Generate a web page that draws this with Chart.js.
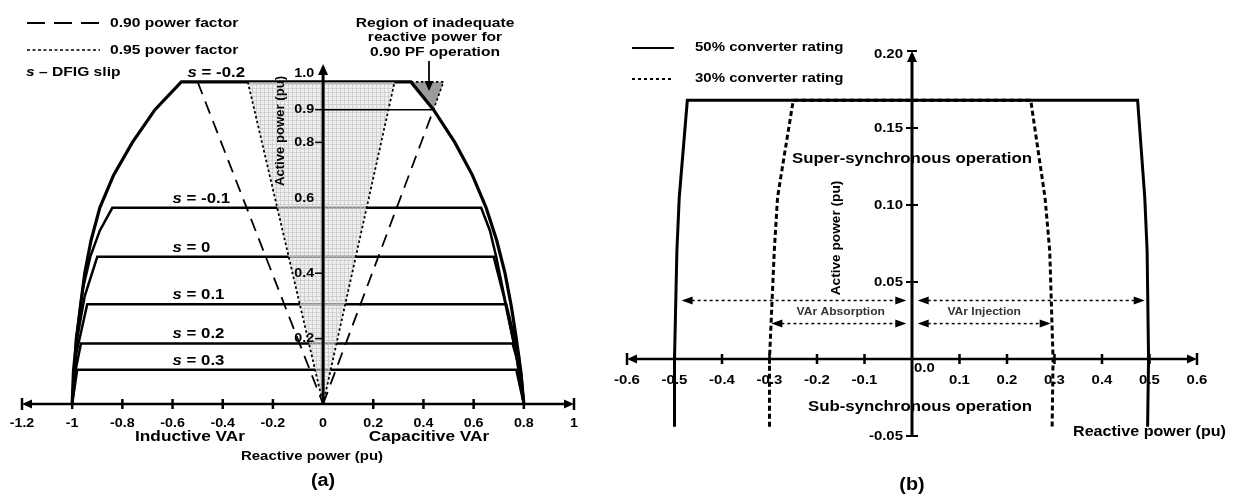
<!DOCTYPE html>
<html lang="en">
<head>
<meta charset="UTF-8">
<title>DFIG reactive power capability</title>
<script src="https://cdn.jsdelivr.net/npm/chart.js"></script>
<style>
  body { margin: 0; background: #fff; }
  #wrap { position: relative; width: 1236px; height: 496px; }
  #chartA { position: absolute; left: 0; top: 0; }
  #chartB { position: absolute; left: 600px; top: 0; }
</style>
</head>
<body>
<div id="wrap">
  <canvas id="chartA" width="600" height="496"></canvas>
  <canvas id="chartB" width="636" height="496"></canvas>
</div>
<script>
// ---- (a) capability curves per slip, points are [reactive Q, active P] in pu
const slipNames = ['-0.2', '-0.1', '0', '0.1', '0.2', '0.3'];
const slipTopP = [0.985, 0.6, 0.45, 0.305, 0.185, 0.105];
const curveSm02 = [[-1, 0], [-0.995, 0.1], [-0.982, 0.2], [-0.967, 0.3], [-0.95, 0.4], [-0.925, 0.5],
  [-0.89, 0.6], [-0.835, 0.7], [-0.76, 0.8], [-0.67, 0.9], [-0.565, 0.985], [0.35, 0.985], [0.44, 0.9],
  [0.525, 0.8], [0.595, 0.7], [0.65, 0.6], [0.692, 0.5], [0.725, 0.4], [0.75, 0.3], [0.77, 0.2], [0.788, 0.1], [0.8, 0]];
const curveSm01 = [[-1, 0], [-0.985, 0.2], [-0.958, 0.35], [-0.928, 0.45], [-0.89, 0.53], [-0.84, 0.6],
  [0.63, 0.6], [0.665, 0.53], [0.69, 0.45], [0.73, 0.3], [0.77, 0.15], [0.8, 0]];
const curveS0 = [[-1, 0], [-0.98, 0.2], [-0.95, 0.33], [-0.9, 0.45], [0.68, 0.45], [0.72, 0.33], [0.77, 0.15], [0.8, 0]];
const curveS01 = [[-1, 0], [-0.985, 0.15], [-0.94, 0.305], [0.73, 0.305], [0.78, 0.15], [0.8, 0]];
const curveS02 = [[-1, 0], [-0.99, 0.09], [-0.965, 0.185], [0.755, 0.185], [0.79, 0.09], [0.8, 0]];
const curveS03 = [[-1, 0], [-0.98, 0.105], [0.77, 0.105], [0.8, 0]];
const pf90Left = [[-0.5, 0.985], [0, 0]];
const pf90Right = [[0, 0], [0.44, 0.9]];
const pf95Left = [[-0.3, 0.985], [0, 0]];
const pf95Right = [[0, 0], [0.285, 0.985]];
const pf95Region = [[0, 0], [-0.3, 0.985], [0.285, 0.985], [0, 0]];
const lackRegion = [[0.35, 0.985], [0.48, 0.985], [0.44, 0.9], [0.35, 0.985]];
const line09 = [[0, 0.9], [0.44, 0.9]];
const xTicksA = [-1.2, -1, -0.8, -0.6, -0.4, -0.2, 0, 0.2, 0.4, 0.6, 0.8, 1];
const yTicksA = [0.2, 0.4, 0.6, 0.8, 0.9, 1.0];

// ---- (b) converter rating limits, [reactive Q, active P] in pu
const conv50 = [[-0.5, -0.044], [-0.5, 0], [-0.495, 0.07], [-0.49, 0.105], [-0.473, 0.168],
  [0.475, 0.168], [0.49, 0.105], [0.495, 0.07], [0.498, 0], [0.496, -0.044]];
const conv30 = [[-0.3, -0.044], [-0.3, 0], [-0.29, 0.07], [-0.283, 0.105], [-0.27, 0.13], [-0.25, 0.168],
  [0.25, 0.168], [0.268, 0.13], [0.28, 0.105], [0.29, 0.07], [0.297, 0], [0.295, -0.044]];
const arrowsAbsorb = [[-0.485, -0.012, 0.038], [-0.296, -0.012, 0.023]];
const arrowsInject = [[0.012, 0.49, 0.038], [0.012, 0.292, 0.023]];
const xTicksB = [-0.6, -0.5, -0.4, -0.3, -0.2, -0.1, 0, 0.1, 0.2, 0.3, 0.4, 0.5, 0.6];
const yTicksB = [-0.05, 0.05, 0.10, 0.15, 0.20];

const F = '"Liberation Sans", Arial, sans-serif';
const pts = arr => arr.map(([x, y]) => ({ x, y }));

function ds(arr, opts) {
  return Object.assign({
    data: pts(arr), showLine: true, pointRadius: 0, borderColor: '#000',
    borderWidth: 2.5, fill: false, tension: 0, clip: false
  }, opts);
}

function T(ctx, s, x, y, size, align, o) {
  o = o || {};
  const sx = o.sx === undefined ? 1.15 : o.sx;
  ctx.save();
  ctx.translate(x, y);
  if (o.rot) ctx.rotate(o.rot);
  ctx.scale(sx, 1);
  ctx.font = (o.italic ? 'italic ' : '') + (o.weight || 'bold') + ' ' + size + 'px ' + F;
  ctx.fillStyle = o.color || '#000';
  ctx.textAlign = align || 'center';
  ctx.textBaseline = 'middle';
  ctx.fillText(s, 0, 0);
  const w = ctx.measureText(s).width * sx;
  ctx.restore();
  return w;
}

function seg(ctx, x1, y1, x2, y2) {
  ctx.beginPath(); ctx.moveTo(x1, y1); ctx.lineTo(x2, y2); ctx.stroke();
}

function head(ctx, x, y, ang, len, w) {
  const c = Math.cos(ang), s = Math.sin(ang);
  ctx.beginPath();
  ctx.moveTo(x, y);
  ctx.lineTo(x - len * c + w * s, y - len * s - w * c);
  ctx.lineTo(x - len * c - w * s, y - len * s + w * c);
  ctx.closePath();
  ctx.fill();
}

function baseOptions(xr, yr, pad) {
  return {
    responsive: false, animation: false, devicePixelRatio: 1, events: [],
    layout: { padding: pad },
    plugins: { legend: { display: false }, tooltip: { enabled: false } },
    scales: {
      x: { type: 'linear', min: xr[0], max: xr[1], display: false },
      y: { type: 'linear', min: yr[0], max: yr[1], display: false }
    }
  };
}

// grid pattern for the 0.95 PF region
const pc = document.createElement('canvas');
pc.width = 4; pc.height = 4;
const pg = pc.getContext('2d');
pg.fillStyle = 'rgba(228,228,228,0.62)'; pg.fillRect(0, 0, 4, 4);
pg.fillStyle = 'rgba(195,195,195,0.62)'; pg.fillRect(0, 0, 4, 1); pg.fillRect(0, 0, 1, 4);
const fanPattern = document.getElementById('chartA').getContext('2d').createPattern(pc, 'repeat');

// ---------------- panel (a)
const drawA = {
  id: 'drawA',
  afterDatasetsDraw(chart) {
    const ctx = chart.ctx;
    const X = v => chart.scales.x.getPixelForValue(v);
    const Y = v => chart.scales.y.getPixelForValue(v);
    ctx.save();
    ctx.strokeStyle = '#000'; ctx.fillStyle = '#000';

    // x axis
    ctx.lineWidth = 2.5;
    seg(ctx, X(-1.2) + 4, Y(0), X(1) - 4, Y(0));
    head(ctx, X(-1.2), Y(0), Math.PI, 10, 4.5);
    head(ctx, X(1), Y(0), 0, 10, 4.5);
    seg(ctx, X(-1.2), Y(0) - 6, X(-1.2), Y(0) + 6);
    seg(ctx, X(1), Y(0) - 6, X(1), Y(0) + 6);
    xTicksA.forEach(v => {
      if (v > -1.2 && v < 1 && v !== 0) seg(ctx, X(v), Y(0) - 5, X(v), Y(0) + 5);
      T(ctx, String(v), X(v), Y(0) + 19, 13, 'center', { sx: 1.1 });
    });

    // y axis
    ctx.lineWidth = 3;
    seg(ctx, X(0), Y(0), X(0), Y(1.04) + 8);
    head(ctx, X(0), Y(1.04), -Math.PI / 2, 11, 5);
    ctx.lineWidth = 1.5;
    yTicksA.forEach(v => {
      if (v !== 0.6 && v !== 1.0) seg(ctx, X(0) - 8, Y(v), X(0), Y(v));
      T(ctx, v.toFixed(1), X(0) - 9, Y(v) - (v === 0.6 ? 9 : 0) - (v === 1.0 ? 4 : 0), 13, 'right', { sx: 1.1 });
    });
    T(ctx, 'Active power (pu)', 281, 131, 12.5, 'center', { rot: -Math.PI / 2, sx: 1.05 });

    // slip labels
    slipTopP.forEach((p, i) => {
      const x = X(i === 0 ? -0.54 : -0.6), y = Y(p) - 9;
      const w = T(ctx, 's', x, y, 14, 'left', { italic: true, sx: 1.2 });
      T(ctx, ' = ' + slipNames[i], x + w, y, 14, 'left', { sx: 1.2 });
    });

    // legend
    ctx.lineWidth = 2;
    ctx.setLineDash([18, 9]);
    seg(ctx, 27, 23, 100, 23);
    ctx.setLineDash([3, 2.5]);
    ctx.lineWidth = 1.5;
    seg(ctx, 27, 50, 100, 50);
    ctx.setLineDash([]);
    T(ctx, '0.90 power factor', 110, 23, 13, 'left', { sx: 1.2 });
    T(ctx, '0.95 power factor', 110, 50, 13, 'left', { sx: 1.2 });
    const ws = T(ctx, 's', 26, 72, 13, 'left', { italic: true, sx: 1.2 });
    T(ctx, ' \u2013 DFIG slip', 26 + ws, 72, 13, 'left', { sx: 1.2 });

    // inadequate region note
    T(ctx, 'Region of inadequate', 435, 23, 13, 'center', { sx: 1.2 });
    T(ctx, 'reactive power for', 435, 37, 13, 'center', { sx: 1.2 });
    T(ctx, '0.90 PF operation', 435, 52, 13, 'center', { sx: 1.2 });
    ctx.lineWidth = 1.8;
    seg(ctx, 429, 61, 429, 82);
    head(ctx, 429, 91, Math.PI / 2, 10, 4.5);

    // bottom labels
    T(ctx, 'Inductive VAr', 190, 437, 15, 'center', { sx: 1.15 });
    T(ctx, 'Capacitive VAr', 429, 437, 15, 'center', { sx: 1.15 });
    T(ctx, 'Reactive power (pu)', 312, 456, 13, 'center', { sx: 1.15 });
    T(ctx, '(a)', X(0), 481, 18, 'center', { sx: 1.1 });
    ctx.restore();
  }
};

new Chart(document.getElementById('chartA'), {
  type: 'scatter',
  data: {
    datasets: [
      ds(pf90Left, { borderWidth: 1.8, borderDash: [13, 8], order: 1 }),
      ds(pf90Right, { borderWidth: 1.8, borderDash: [13, 8], order: 1 }),
      ds(pf95Left, { borderWidth: 1.8, borderDash: [2.5, 2.5], order: 1 }),
      ds(pf95Right, { borderWidth: 1.8, borderDash: [2.5, 2.5], order: 1 }),
      ds(line09, { borderWidth: 1.5, order: 1 }),
      ds(pf95Region, { borderWidth: 0, borderColor: 'rgba(0,0,0,0)', backgroundColor: fanPattern, fill: 'shape', order: 2 }),
      ds(curveSm02, { borderWidth: 3.2, order: 3 }),
      ds(curveSm01, { order: 3 }),
      ds(curveS0, { order: 3 }),
      ds(curveS01, { order: 3 }),
      ds(curveS02, { order: 3 }),
      ds(curveS03, { order: 3 }),
      ds(lackRegion, { borderWidth: 1.6, borderDash: [2.5, 2.5], backgroundColor: '#9b9b9b', fill: 'shape', order: 4 })
    ]
  },
  options: baseOptions([-1.2, 1], [0, 1], { left: 22, right: 26, top: 77, bottom: 92 }),
  plugins: [drawA]
});

// ---------------- panel (b)
const drawB = {
  id: 'drawB',
  beforeDatasetsDraw(chart) {
    const ctx = chart.ctx;
    const X = v => chart.scales.x.getPixelForValue(v);
    const Y = v => chart.scales.y.getPixelForValue(v);
    ctx.save();
    xTicksB.forEach(v => {
      if (v !== 0) T(ctx, v.toFixed(1), X(v), Y(0) + 21, 13, 'center', { sx: 1.15 });
    });
    T(ctx, '0.0', X(0) + 2, Y(0) + 9, 13, 'left', { sx: 1.15 });
    yTicksB.forEach(v => {
      T(ctx, v.toFixed(2), X(0) - 9, Y(v) + (v === 0.2 ? 3 : 0), 13, 'right', { sx: 1.15 });
    });
    T(ctx, 'Super-synchronous operation', X(0), 159, 14, 'center', { sx: 1.2 });
    T(ctx, 'Sub-synchronous operation', 320, 407, 14, 'center', { sx: 1.2 });
    T(ctx, 'Active power (pu)', 236, 238, 13, 'center', { rot: -Math.PI / 2, sx: 1.05 });
    T(ctx, 'Reactive power (pu)', 473, 432, 14, 'left', { sx: 1.15 });
    T(ctx, 'VAr Absorption', X(-0.15), Y(0.0305), 10.5, 'center', { sx: 1.15, color: '#333' });
    T(ctx, 'VAr Injection', X(0.152), Y(0.0305), 10.5, 'center', { sx: 1.15, color: '#333' });
    T(ctx, '(b)', X(0), 485, 18, 'center', { sx: 1.1 });

    // legend
    ctx.strokeStyle = '#000';
    ctx.lineWidth = 2;
    seg(ctx, 32, 48, 74, 48);
    ctx.setLineDash([3, 3]);
    seg(ctx, 32, 79, 74, 79);
    ctx.setLineDash([]);
    T(ctx, '50% converter rating', 95, 48, 12.5, 'left', { sx: 1.2 });
    T(ctx, '30% converter rating', 95, 79, 12.5, 'left', { sx: 1.2 });
    ctx.restore();
  },
  afterDatasetsDraw(chart) {
    const ctx = chart.ctx;
    const X = v => chart.scales.x.getPixelForValue(v);
    const Y = v => chart.scales.y.getPixelForValue(v);
    ctx.save();
    ctx.strokeStyle = '#000'; ctx.fillStyle = '#000';

    // x axis
    ctx.lineWidth = 2.5;
    seg(ctx, X(-0.6) + 4, Y(0), X(0.6) - 4, Y(0));
    head(ctx, X(-0.6), Y(0), Math.PI, 10, 4.5);
    head(ctx, X(0.6), Y(0), 0, 10, 4.5);
    seg(ctx, X(-0.6), Y(0) - 6, X(-0.6), Y(0) + 6);
    seg(ctx, X(0.6), Y(0) - 6, X(0.6), Y(0) + 6);
    xTicksB.forEach(v => {
      if (v > -0.6 && v < 0.6 && v !== 0) seg(ctx, X(v), Y(0) - 5, X(v), Y(0) + 5);
    });

    // y axis
    ctx.lineWidth = 3;
    seg(ctx, X(0), Y(-0.05), X(0), Y(0.2) + 8);
    head(ctx, X(0), Y(0.2), -Math.PI / 2, 11, 5);
    ctx.lineWidth = 2;
    seg(ctx, X(0) - 5, Y(0.2), X(0) + 5, Y(0.2));
    yTicksB.forEach(v => {
      if (v < 0.2) seg(ctx, X(0) - 6, Y(v), X(0) + 6, Y(v));
    });

    // double arrows
    ctx.lineWidth = 1.5;
    arrowsAbsorb.concat(arrowsInject).forEach(([a, b, p]) => {
      const y = Y(p);
      ctx.setLineDash([3, 3]);
      seg(ctx, X(a) + 10, y, X(b) - 10, y);
      ctx.setLineDash([]);
      head(ctx, X(a), y, Math.PI, 11, 4);
      head(ctx, X(b), y, 0, 11, 4);
    });
    ctx.restore();
  }
};

new Chart(document.getElementById('chartB'), {
  type: 'scatter',
  data: {
    datasets: [
      ds(conv30, { borderWidth: 3, borderDash: [5, 3], order: 1 }),
      ds(conv50, { borderWidth: 3, order: 2 })
    ]
  },
  options: baseOptions([-0.6, 0.6], [-0.05, 0.2], { left: 27, right: 39, top: 51, bottom: 60 }),
  plugins: [drawB]
});
</script>
</body>
</html>
